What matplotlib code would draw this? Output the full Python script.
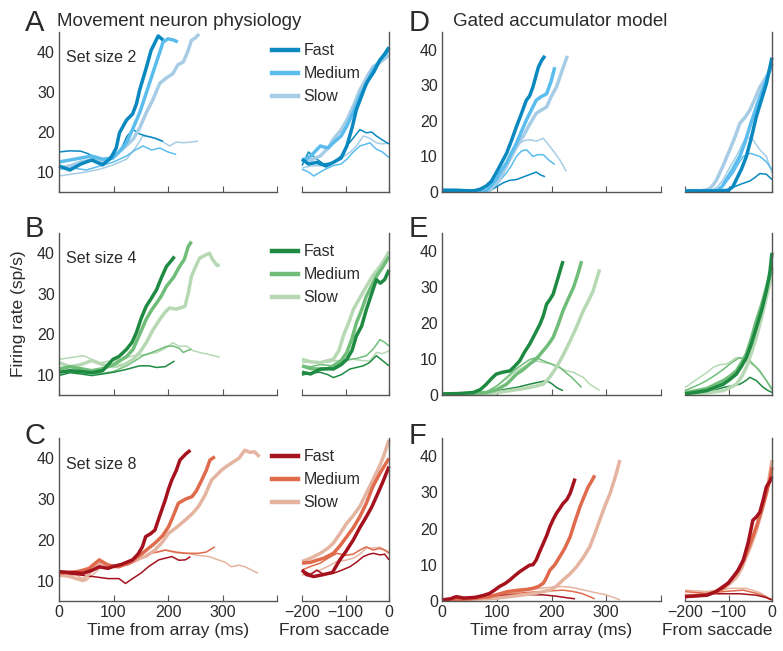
import matplotlib
matplotlib.use("Agg")
import matplotlib.pyplot as plt
from matplotlib.lines import Line2D

# ---------------- DATA (firing rate, sp/s) ----------------
# Physiology, set size 2 (A) - aligned on array
A_arr_fast_tgt_t = [0,20,40,60,80,95,105,111,124,135,142,148,160,169,182,191]
A_arr_fast_tgt_y = [11.5,10.5,12,13,11.8,13.5,16,19.8,23,24.5,27,30.5,36,40.4,44,43]
A_arr_med_tgt_t = [0,20,40,60,80,99,110,124,136,148,157,166,174,182,191,200,210,218]
A_arr_med_tgt_y = [12.5,13,13.5,14,13.2,13.5,15,17.3,21,24.8,28.5,32.2,35.5,38.8,42.5,43.3,43,42.5]
A_arr_slow_tgt_t = [0,20,40,60,80,99,115,136,148,160,172,185,197,209,218,228,236,243,250,257]
A_arr_slow_tgt_y = [11,11.5,12.5,13,12.5,14,15.5,18.2,21,24.8,28,32.2,33.5,34.6,36.8,37.5,40,42.9,43.5,44.5]
A_arr_fast_dis_t = [0,20,40,55,70,85,100,115,125,136,148,160,175,191]
A_arr_fast_dis_y = [15,15.3,15.2,14.5,12.8,12.4,13.5,16,19,20.6,19.5,19,18.5,17.7]
A_arr_med_dis_t = [0,25,50,75,100,124,140,154,170,185,200,215]
A_arr_med_dis_y = [10.7,11,10.5,11.5,12.5,14,15.5,16.5,15.5,16,15,14.4]
A_arr_slow_dis_t = [0,25,50,75,100,124,140,154,167,179,191,203,215,228,242,255]
A_arr_slow_dis_y = [9,9.5,10,10.7,11.8,13.2,16,19,18.8,18.2,17.5,16.5,17.5,17.3,17.5,17.7]
# Physiology, set size 2 (A) - aligned on saccade
A_sac_fast_tgt_t = [-200,-185,-166,-145,-128,-110,-97,-85,-75,-63,-52,-35,-21,-10,0]
A_sac_fast_tgt_y = [13.2,12,12.4,11.5,12.4,13.5,16.5,21,25.6,29,32.2,35,38,39.5,41.2]
A_sac_med_tgt_t = [-200,-180,-158,-140,-128,-110,-97,-82,-67,-52,-37,-20,0]
A_sac_med_tgt_y = [12.8,14,16.5,16,17.3,19,21.5,25,29,32,35.5,38,40.4]
A_sac_slow_tgt_t = [-200,-180,-158,-140,-128,-110,-97,-82,-67,-52,-37,-20,0]
A_sac_slow_tgt_y = [13.2,13,14,16,18.2,20.5,23,26.5,30.5,33.5,36.3,37.5,39.2]
A_sac_fast_dis_t = [-200,-185,-166,-150,-128,-110,-97,-82,-67,-52,-40,-29,-15,0]
A_sac_fast_dis_y = [11.6,15,13.2,12,12.4,14,16.5,18.5,20.6,19.8,20,19,18,17]
A_sac_med_dis_t = [-200,-185,-173,-150,-128,-110,-97,-82,-67,-52,-44,-29,-15,0]
A_sac_med_dis_y = [10.7,10,9,10.5,11.6,12,13.2,15,16.5,17,17.3,15.7,15,13.6]
A_sac_slow_dis_t = [-200,-180,-158,-140,-128,-110,-90,-75,-59,-45,-29,-15,0]
A_sac_slow_dis_y = [11,11.5,11.6,12,12.4,13.5,14.9,16.5,19,18.5,17.3,17,17.3]

# Physiology, set size 4 (B)
B_arr_fast_tgt_t = [0,20,40,60,80,99,110,124,134,142,151,160,170,179,188,197,205,212]
B_arr_fast_tgt_y = [10.6,11,10.8,10.5,11,13.8,14.5,16.3,18,20.4,24,26.9,29,31,34,36.7,38,39.2]
B_arr_med_tgt_t = [0,20,40,60,80,100,111,124,136,148,160,170,179,188,197,210,221,230,237,243]
B_arr_med_tgt_y = [11.4,12,11.5,11,11.5,12.5,13.4,14.5,16.3,20,23.7,26,27.7,29.5,31.8,34,36.7,38.5,41.6,42.9]
B_arr_slow_tgt_t = [0,20,40,60,80,100,120,136,148,160,172,185,195,203,215,231,237,243,250,258,268,276,282,290,295]
B_arr_slow_tgt_y = [13,12,12.5,13.5,12.5,12,12.5,13.8,15.5,17.9,21,23.7,25.5,26.5,26.2,26.9,30,34.3,36.5,38.8,39.5,40,38.4,37,37.1]
B_arr_fast_dis_t = [0,20,40,60,80,99,120,148,165,179,195,212]
B_arr_fast_dis_y = [9.8,10.5,10.2,9.8,10.2,10.6,11.2,12.2,12.2,11.8,12,13.4]
B_arr_med_dis_t = [0,25,50,75,100,124,140,154,170,185,197,209,221,228,236,243]
B_arr_med_dis_y = [10.6,10.8,10.4,10.2,10.8,12.2,13.5,14.7,15.5,16.3,17,17.1,16.5,15.5,16,16.3]
B_arr_slow_dis_t = [0,20,45,60,75,100,120,136,160,179,195,209,221,234,245,258,275,295]
B_arr_slow_dis_y = [13.8,14.2,14.7,13.8,13,13.5,14,14.7,15,15.5,16.5,17.9,17,17.1,16,15.5,15,14.3]
B_sac_fast_tgt_t = [-200,-180,-158,-140,-128,-110,-97,-85,-75,-63,-52,-40,-29,-20,-10,0]
B_sac_fast_tgt_y = [10.6,10.2,11.4,11.5,11.4,12.5,13.8,16,19.6,22,26.1,30,33.5,32.6,33.5,35.9]
B_sac_med_tgt_t = [-200,-180,-158,-140,-128,-110,-97,-85,-75,-63,-52,-40,-29,-15,0]
B_sac_med_tgt_y = [12.2,11.5,11.4,11.5,12.2,13.5,15.5,19,22.8,26,29.4,32,34.3,36.5,39.2]
B_sac_slow_tgt_t = [-200,-180,-158,-140,-128,-115,-105,-92,-82,-67,-52,-37,-21,-10,0]
B_sac_slow_tgt_y = [13.8,13.2,13,13.5,13.8,16,19.6,23,26.1,29,31.8,34.5,36.7,38.5,40.4]
B_sac_fast_dis_t = [-200,-180,-158,-140,-128,-110,-90,-75,-59,-45,-29,-15,0]
B_sac_fast_dis_y = [9.9,10.5,10.6,10,9.3,10,11.4,11.8,12.2,13,14.7,13.5,12.2]
B_sac_med_dis_t = [-200,-180,-158,-128,-110,-90,-75,-52,-35,-21,-10,0]
B_sac_med_dis_y = [12.2,12,12.5,12.2,13,13.8,14,14.7,16.5,18.7,18,17.1]
B_sac_slow_dis_t = [-200,-170,-140,-128,-105,-82,-60,-44,-29,-15,0]
B_sac_slow_dis_y = [13,13.2,13.1,13.4,13.6,13.8,13.5,13.4,15.5,15.2,15.9]

# Physiology, set size 8 (C)
C_arr_fast_tgt_t = [0,20,44,60,74,90,98,115,135,145,153,159,168,176,185,195,201,207,215,222,232,241]
C_arr_fast_tgt_y = [12.2,12,11.8,12.5,13.4,13,13.4,14,15.1,16.5,18.3,20.8,21.5,22.4,26,29.8,32.5,34.7,37,39.6,41,42]
C_arr_med_tgt_t = [0,20,37,55,74,90,110,130,153,165,176,190,201,210,219,232,244,252,262,270,277,286]
C_arr_med_tgt_y = [11.8,12,12.3,13,15.1,13.8,13.4,14.5,16.7,18,19.2,21,23.2,26,29,30,30.6,32,34.7,37,39.6,40.4]
C_arr_slow_tgt_t = [0,20,44,60,74,90,104,120,140,160,176,190,201,215,232,245,256,268,280,290,298,307,316,330,341,350,359,368]
C_arr_slow_tgt_y = [11.4,11,10,12.5,14.3,13.8,13.4,14,15.1,16,17.5,19.5,21.6,23,24.9,26.5,28.2,31,34.7,36,37.1,38,38.8,40,42,41.5,41.6,40.4]
C_arr_fast_dis_t = [0,30,62,90,110,122,135,150,165,183,195,207,220,232,241]
C_arr_fast_dis_y = [11.8,11.5,11,10.5,10.5,9.3,10.5,11.8,13.5,15.1,15.5,15.9,15,15.1,15.9]
C_arr_med_dis_t = [0,25,50,75,100,125,145,165,180,195,215,235,255,270,286]
C_arr_med_dis_y = [11,11.5,12,14.3,13.5,13.8,15,16.7,17,17.5,17,16.7,16.7,17,18.3]
C_arr_slow_dis_t = [0,30,50,75,100,130,150,170,195,215,235,255,275,292,305,316,330,341,355,365]
C_arr_slow_dis_y = [11,11.5,10,13,13.5,14.3,15.5,16.7,17.5,16.8,16.7,16.2,15.9,15.1,14.5,13.4,13.8,13.4,12.5,11.8]
C_sac_fast_tgt_t = [-200,-190,-173,-150,-130,-113,-100,-82,-67,-52,-40,-29,-15,0]
C_sac_fast_tgt_y = [12.6,11.5,11,11.5,12,15.1,17,20,23,25.7,28,30.6,34,38]
C_sac_med_tgt_t = [-200,-180,-166,-150,-128,-113,-97,-82,-67,-52,-37,-20,0]
C_sac_med_tgt_y = [14.3,14.5,15,15.5,16.7,18.5,20.8,23,25.7,29,33.1,36.5,40]
C_sac_slow_tgt_t = [-200,-180,-158,-140,-128,-113,-97,-82,-67,-52,-37,-20,-13,0]
C_sac_slow_tgt_y = [14.7,15.5,16.7,18,19.2,21.5,24.1,26,28.2,31.5,34.7,38.5,40.4,44.5]
C_sac_fast_dis_t = [-200,-180,-166,-150,-128,-110,-90,-75,-59,-45,-36,-20,-10,0]
C_sac_fast_dis_y = [12.6,11.5,12.6,11.5,11.8,12.5,13.4,14.5,15.9,16.5,16.7,16.3,16.5,15.1]
C_sac_med_dis_t = [-200,-180,-158,-140,-120,-100,-82,-67,-52,-37,-21,-10,0]
C_sac_med_dis_y = [12.6,13.5,14.3,15.5,16.7,16.2,16.5,17.5,18.3,17.5,17.9,17.5,16.7]
C_sac_slow_dis_t = [-200,-180,-158,-140,-120,-100,-82,-67,-52,-37,-21,-10,0]
C_sac_slow_dis_y = [11.4,11.8,12.6,13.5,14.7,15,15.5,16.5,18,18,18.2,17.5,17.1]

# Model, set size 2 (D)
D_arr_fast_tgt_t = [0,20,40,57,70,81,90,99,108,118,127,136,145,154,160,166,176,182,188]
D_arr_fast_tgt_y = [0.5,0.5,0.4,0.3,0.8,1.7,3,5.4,8,10.9,14.5,18.4,22,25.8,27,29.5,35.1,37,38.3]
D_arr_med_tgt_t = [0,30,60,81,99,108,118,127,136,145,154,163,172,181,191,199,206]
D_arr_med_tgt_y = [0.4,0.4,0.3,0.3,3.5,6,8.2,11,13.7,17,20.2,23,25.8,26.8,27.6,31,35.1]
D_arr_slow_tgt_t = [0,30,60,87,105,115,124,136,148,160,172,181,191,200,209,219,229]
D_arr_slow_tgt_y = [0.3,0.3,0.2,0.5,3.5,7,10,13,15.6,19,22.1,23,23.9,27,29.5,34,38.3]
D_arr_fast_dis_t = [0,40,87,100,112,124,136,148,160,172,180,188]
D_arr_fast_dis_y = [0.3,0.3,0.3,1.5,2.6,3.3,3.5,4.2,4.9,5.6,4.8,4.3]
D_arr_med_dis_t = [0,40,87,100,110,118,127,136,145,154,160,166,175,185,195,206]
D_arr_med_dis_y = [0.3,0.3,0.5,2,4,5.4,7.5,10,11.5,11.9,11,10,10.5,10.5,9,7.7]
D_arr_slow_dis_t = [0,40,87,100,112,127,142,151,160,172,185,191,197,206,215,227]
D_arr_slow_dis_y = [0.3,0.3,0.6,2.5,5,9.5,13.7,14.5,14.7,14.3,15.1,14,12.8,11,9.1,5.8]
D_sac_fast_tgt_t = [-200,-160,-120,-100,-90,-82,-70,-59,-48,-36,-24,-13,-5,0]
D_sac_fast_tgt_y = [0.3,0.3,0.3,0.5,1.5,3.5,6.5,10,15,21.2,26,30.4,35,37.8]
D_sac_med_tgt_t = [-200,-160,-140,-125,-115,-105,-90,-74,-62,-51,-40,-28,-15,0]
D_sac_med_tgt_y = [0.3,0.3,0.3,0.5,1.5,3.5,6.5,10,14,18.4,22.5,26.7,31,36]
D_sac_slow_tgt_t = [-200,-170,-160,-145,-135,-127,-112,-97,-85,-74,-62,-51,-40,-28,-15,0]
D_sac_slow_tgt_y = [0.3,0.3,0.4,0.8,2,3.5,7.5,11.9,15.5,19.3,21,23,26,29.5,32,35.1]
D_sac_fast_dis_t = [-200,-150,-112,-100,-74,-51,-40,-28,-13,0]
D_sac_fast_dis_y = [0.3,0.3,0.3,0.8,2.1,3.1,4,5.2,5,3.5]
D_sac_med_dis_t = [-200,-150,-127,-110,-89,-77,-66,-51,-40,-28,-13,0]
D_sac_med_dis_y = [0.3,0.3,0.3,2,5.4,8,10,10.9,10.5,10,8.5,6.3]
D_sac_slow_dis_t = [-200,-160,-140,-125,-112,-97,-82,-70,-59,-44,-28,-13,0]
D_sac_slow_dis_y = [0.3,0.3,0.3,1.5,3.5,7,10,13,15.6,14.7,11.9,10,5.4]

# Model, set size 4 (E)
E_arr_fast_tgt_t = [0,30,57,70,81,90,99,110,124,133,142,151,160,170,179,185,191,197,203,212,221]
E_arr_fast_tgt_y = [0.3,0.4,0.7,1.5,3,4.5,5.8,6.3,6.7,8,9.5,12,14.1,17,19.7,22,25.2,26.5,28,32.6,37.2]
E_arr_med_tgt_t = [0,40,81,100,118,136,148,160,172,185,194,203,212,221,230,240,248,255]
E_arr_med_tgt_y = [0.3,0.3,0.7,1.5,3,5.8,7,8.6,10,12.3,14,16,19.5,23.4,26.5,29.8,33.5,37.2]
E_arr_slow_tgt_t = [0,40,87,124,142,160,172,185,197,209,221,234,246,258,267,276,282,288]
E_arr_slow_tgt_y = [0.2,0.3,0.4,1.2,1.6,2.1,2.5,3,5,7.7,11,15,19,23.4,26,28.9,32,34.9]
E_arr_fast_dis_t = [0,40,81,100,112,136,160,175,191,200,210,221]
E_arr_fast_dis_y = [0.3,0.3,0.6,1,1.5,2.1,3,3.5,4,3.2,2,1.2]
E_arr_med_dis_t = [0,40,81,100,118,133,148,160,172,185,200,215,228,237,246,255]
E_arr_med_dis_y = [0.3,0.3,0.8,2.5,4.9,7,8.6,9.8,10.4,9.5,8.6,7.7,6,4.9,3.5,2.1]
E_arr_slow_dis_t = [0,40,81,100,118,133,148,160,172,185,200,215,228,240,258,270,280,288]
E_arr_slow_dis_y = [0.2,0.3,0.8,2.5,4.5,6.5,7.7,8.6,9.5,9,8.6,7.5,6.7,6.3,4.9,3,2,1.2]
E_sac_fast_tgt_t = [-200,-150,-112,-97,-82,-70,-59,-48,-36,-24,-13,-5,0]
E_sac_fast_tgt_y = [0.3,1.2,3,4.3,5.8,8,10.4,14,18.7,23.5,28.9,34,39.5]
E_sac_med_tgt_t = [-200,-150,-112,-97,-82,-70,-59,-48,-36,-24,-13,-5,0]
E_sac_med_tgt_y = [0.6,1.8,4,5.2,6.7,9,11.4,15.5,20.6,25,29.8,33,35.4]
E_sac_slow_tgt_t = [-200,-150,-112,-97,-82,-70,-59,-48,-36,-24,-13,-5,0]
E_sac_slow_tgt_y = [0.3,0.6,1.2,2,3,5,7.7,11.5,16,21.5,27,31,34.4]
E_sac_fast_dis_t = [-200,-150,-112,-90,-74,-60,-51,-44,-36,-20,-10,0]
E_sac_fast_dis_y = [0.4,0.6,2.1,2.6,3,4,4.9,4.5,4,2.1,1.3,0.7]
E_sac_med_dis_t = [-200,-166,-150,-127,-110,-97,-85,-74,-59,-51,-28,-10,0]
E_sac_med_dis_y = [1.2,3,4,5.8,7.3,8.6,9.6,10.4,9.8,9.5,6.7,3.5,1.7]
E_sac_slow_dis_t = [-200,-166,-150,-135,-120,-105,-93,-82,-70,-59,-36,-13,0]
E_sac_slow_dis_y = [2.1,4.9,6.2,7.7,8.4,8.6,9.5,10.4,10.2,9.5,7.7,4,1.2]

# Model, set size 8 (F)
F_arr_fast_tgt_t = [0,15,26,40,60,75,87,96,105,115,124,133,142,151,160,166,172,178,185,191,197,203,209,215,221,228,234,238,243]
F_arr_fast_tgt_y = [0.3,0.6,1.2,0.8,1,1.5,2.1,3,4,4.8,5.8,7,8.1,9,9.9,10,11.3,13.5,15.9,18,20.5,22.5,24.2,25.5,26.9,28,29.7,31.5,33.8]
F_arr_med_tgt_t = [0,50,87,120,140,155,166,176,185,191,197,206,215,224,234,243,252,260,267,273,279]
F_arr_med_tgt_y = [0.3,0.6,1.2,2.6,3,3.2,3.5,4,4.9,6.5,8.5,10,12.2,14.5,17.7,22,26,29,31.5,33,34.7]
F_arr_slow_tgt_t = [0,60,100,140,170,197,210,221,234,246,258,270,279,288,297,307,316,325]
F_arr_slow_tgt_y = [0.2,0.5,0.8,1.5,2.1,3,4.2,5.8,7.5,9.5,12,15,18.5,22.3,26,29.7,34,38.9]
F_arr_fast_dis_t = [0,60,87,120,150,185,210,228,243]
F_arr_fast_dis_y = [0.3,0.8,1.2,1.6,1.7,1.7,1.3,0.9,0.6]
F_arr_med_dis_t = [0,60,87,120,150,180,200,221,240,255,268,279]
F_arr_med_dis_y = [0.3,0.8,1.2,1.8,2.3,2.6,2.8,3,2.6,2.1,1.3,0.6]
F_arr_slow_dis_t = [0,60,87,120,150,180,200,221,240,260,280,300,315,325]
F_arr_slow_dis_y = [0.3,0.8,1.2,2,2.8,3.5,3.8,4,3.7,3,2.3,1.7,0.9,0.3]
F_sac_fast_tgt_t = [-200,-175,-150,-130,-112,-100,-89,-78,-66,-55,-44,-36,-28,-20,-13,-5,0]
F_sac_fast_tgt_y = [1.2,1.4,1.6,2.5,4,5,6.7,8.5,11.3,16,22.3,23.2,24.5,28,31.5,33,34.3]
F_sac_med_tgt_t = [-200,-175,-150,-130,-112,-97,-82,-70,-59,-48,-36,-24,-13,-5,0]
F_sac_med_tgt_y = [1.2,1.5,1.8,2.5,3.5,5.5,7.6,10,13.1,16.5,20.5,25,29.7,33.5,37]
F_sac_slow_tgt_t = [-200,-175,-150,-130,-112,-97,-82,-70,-59,-48,-36,-24,-13,-5,0]
F_sac_slow_tgt_y = [1.6,1.5,1.6,2.5,3.5,4.8,6.5,9,12.2,15.5,19.6,24.5,29.7,35,38.9]
F_sac_fast_dis_t = [-200,-150,-112,-74,-36,-15,0]
F_sac_fast_dis_y = [1.2,2,2,2,1.6,1,0.3]
F_sac_med_dis_t = [-200,-150,-112,-66,-36,-15,0]
F_sac_med_dis_y = [2.6,2.1,2.6,3,2.1,1.2,0.3]
F_sac_slow_dis_t = [-200,-150,-97,-59,-28,-10,0]
F_sac_slow_dis_y = [3,2.6,3.5,3.5,2.3,1,0.3]

speeds = ["fast", "med", "slow"]
legend_labels = ["Fast", "Medium", "Slow"]
set_size_labels = ["Set size 2", "Set size 4", "Set size 8"]
arr_ticks = [0, 100, 200, 300, 400]
arr_ticklabels = ["0", "100", "200", "300", ""]
sac_ticks = [-200, -100, 0]
sac_ticklabels = ["\u2212200", "\u2212100", "0"]
phys_yticks = [10, 20, 30, 40]
model_yticks = [0, 10, 20, 30, 40]

# ---------------- STYLE ----------------
row_colors = [
    ["#0a88c0", "#5bbdee", "#a7cde6"],
    ["#1f8a42", "#70bd7a", "#b6d9b4"],
    ["#a5121d", "#e06a4c", "#e5b4a0"],
]
TXT = "#2b2b2b"
SPN = "#555555"
plt.rcParams["font.family"] = ["Liberation Sans", "DejaVu Sans"]

W, H = 783, 651
fig = plt.figure(figsize=(W / 100, H / 100), dpi=100)

def fr(x0, top, w, bottom):
    return [x0 / W, 1 - bottom / H, w / W, (bottom - top) / H]

cols = [(59, 218), (302, 87), (442, 219), (685, 87)]
rows = [(32, 192), (233, 395), (438, 601)]
phys_panels = ["A", "B", "C"]
model_panels = ["D", "E", "F"]

for r in range(3):
    top, bot = rows[r]
    for c in range(4):
        x0, w = cols[c]
        ax = fig.add_axes(fr(x0, top, w, bot))
        model = c >= 2
        sac = c in (1, 3)
        panel = (model_panels if model else phys_panels)[r]
        seg = "sac" if sac else "arr"
        for kind, lw in (("dis", 1.1), ("tgt", 2.5)):
            for si in (2, 1, 0):
                s = speeds[si]
                t = globals()[f"{panel}_{seg}_{s}_{kind}_t"]
                y = globals()[f"{panel}_{seg}_{s}_{kind}_y"]
                ax.plot(t, y, color=row_colors[r][si], lw=lw,
                        solid_capstyle="butt", solid_joinstyle="round",
                        clip_on=False)
        if sac:
            ax.set_xlim(-200, 0)
            ax.set_xticks(sac_ticks)
            ax.set_xticklabels(sac_ticklabels if r == 2 else [])
            ax.spines["left"].set_visible(False)
            ax.spines["top"].set_visible(False)
            ax.set_yticks([])
        else:
            ax.set_xlim(0, 400)
            ax.set_xticks(arr_ticks)
            ax.set_xticklabels(arr_ticklabels if r == 2 else [])
            ax.spines["right"].set_visible(False)
            ax.spines["top"].set_visible(False)
            ax.set_yticks(model_yticks if model else phys_yticks)
        ax.set_ylim((0, 45) if model else (5, 45))
        for sp in ax.spines.values():
            sp.set_color(SPN)
            sp.set_linewidth(1.0)
        ax.tick_params(axis="both", direction="in", length=4, color=SPN,
                       labelsize=11.5, labelcolor=TXT, pad=3)
        ax.tick_params(axis="y", length=0, pad=3)
        ax.patch.set_alpha(0)
        if r == 2:
            if sac:
                ax.set_xlabel("From saccade", fontsize=12.5, color=TXT,
                              loc="right", labelpad=2)
            else:
                ax.set_xlabel("Time from array (ms)", fontsize=12.5, color=TXT,
                              labelpad=2)
        if c == 0:
            ax.text(0.03, 0.84, set_size_labels[r], transform=ax.transAxes,
                    fontsize=11.5, color=TXT, va="center", ha="left")
            hs = [Line2D([], [], color=row_colors[r][i], lw=3.2) for i in range(3)]
            ax.legend(hs, legend_labels, loc="upper left",
                      bbox_to_anchor=(0.975, 0.93), frameon=False,
                      fontsize=11.5, handlelength=1.65, handletextpad=0.35,
                      labelspacing=0.5, borderpad=0, borderaxespad=0,
                      labelcolor=TXT)
            if r == 1:
                ax.set_ylabel("Firing rate (sp/s)", fontsize=12.5, color=TXT,
                              labelpad=8)

# panel letters and titles
letter_pos = [(25, 23), (25, 229), (25, 436)]
for r in range(3):
    fig.text(letter_pos[r][0] / W, 1 - letter_pos[r][1] / H, phys_panels[r],
             fontsize=21, color=TXT, va="center", ha="left")
    fig.text(409 / W, 1 - letter_pos[r][1] / H, model_panels[r],
             fontsize=21, color=TXT, va="center", ha="left")
fig.text(57 / W, 1 - 22 / H, "Movement neuron physiology", fontsize=13.5,
         color=TXT, va="center", ha="left")
fig.text(453 / W, 1 - 22 / H, "Gated accumulator model", fontsize=13.5,
         color=TXT, va="center", ha="left")

fig.savefig("out.png", dpi=100, facecolor="white")
